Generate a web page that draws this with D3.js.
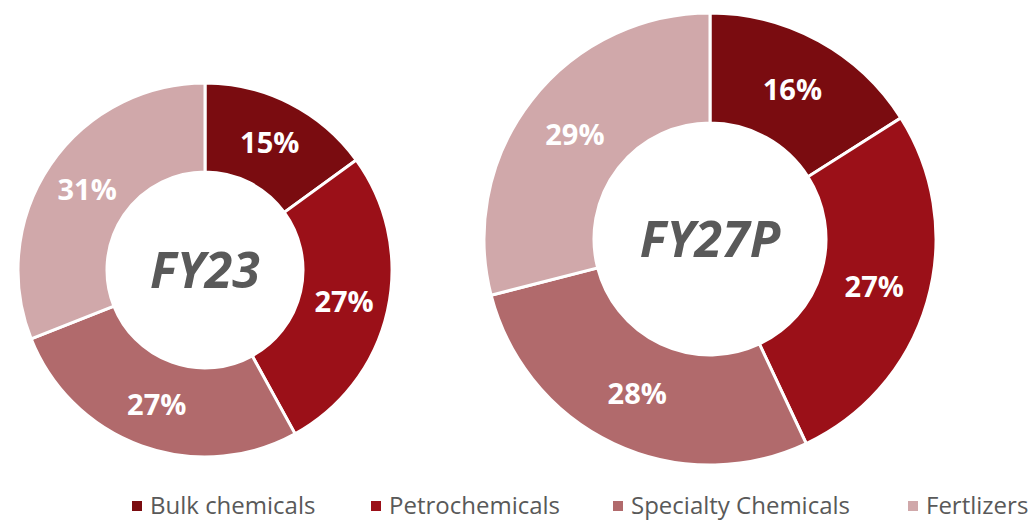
<!DOCTYPE html>
<html>
<head>
<meta charset="utf-8">
<script src="https://cdn.jsdelivr.net/npm/d3@7"></script>
<style>
  body { margin: 0; background: #fff; }
  svg { display: block; font-family: "Open Sans", sans-serif; }
</style>
</head>
<body>
<div id="chart"></div>
<script>
const categories = ['Bulk chemicals', 'Petrochemicals', 'Specialty Chemicals', 'Fertlizers'];
const colors = ['#7a0c10', '#9b1018', '#b16a6c', '#d0a8aa'];
const fy23 = [15, 27, 27, 31];
const fy27p = [16, 27, 28, 29];
const titles = ['FY23', 'FY27P'];

const width = 1028;
const height = 521;

const svg = d3.select('#chart')
  .append('svg')
  .attr('width', width)
  .attr('height', height);

const pie = d3.pie().sort(null).value(d => d);

const donuts = [
  { title: titles[0], values: fy23, cx: 205, cy: 270, r: 187, inner: 98 },
  { title: titles[1], values: fy27p, cx: 710, cy: 239, r: 226, inner: 116 }
];

donuts.forEach(dn => {
  const g = svg.append('g').attr('transform', `translate(${dn.cx},${dn.cy})`);
  const arc = d3.arc().innerRadius(dn.inner).outerRadius(dn.r);
  const arcs = pie(dn.values);

  g.selectAll('path')
    .data(arcs)
    .join('path')
      .attr('d', arc)
      .attr('fill', (d, i) => colors[i])
      .attr('stroke', '#fff')
      .attr('stroke-width', 3);

  g.selectAll('text.lbl')
    .data(arcs)
    .join('text')
      .attr('class', 'lbl')
      .attr('transform', d => `translate(${arc.centroid(d)})`)
      .attr('text-anchor', 'middle')
      .attr('dy', '0.36em')
      .attr('fill', '#fff')
      .attr('font-size', '29px')
      .attr('font-weight', 'bold')
      .text(d => d.data + '%');

  g.append('text')
    .attr('text-anchor', 'middle')
    .attr('dy', '0.36em')
    .attr('fill', '#595959')
    .attr('font-size', '50px')
    .attr('font-weight', 'bold')
    .attr('font-style', 'italic')
    .text(dn.title);
});

// legend
const legendX = [132, 371, 613, 908];
const legend = svg.append('g').attr('transform', 'translate(0,506)');
const item = legend.selectAll('g')
  .data(categories)
  .join('g')
    .attr('transform', (d, i) => `translate(${legendX[i]},0)`);

item.append('rect')
  .attr('x', 0)
  .attr('y', -5)
  .attr('width', 10)
  .attr('height', 10)
  .attr('fill', (d, i) => colors[i]);

item.append('text')
  .attr('x', 18)
  .attr('dy', '0.35em')
  .attr('fill', '#595959')
  .attr('font-size', '24px')
  .text(d => d);
</script>
</body>
</html>
